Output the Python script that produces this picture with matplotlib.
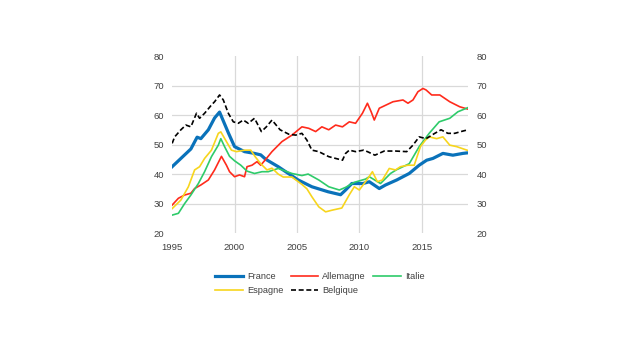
import numpy as np
import matplotlib
matplotlib.use('Agg')
import matplotlib.pyplot as plt

plt.rcParams['font.family'] = ['Liberation Sans', 'DejaVu Sans']

# values (year, level)
fr_years = [1995.0, 1995.5, 1996.0, 1996.5, 1997.0, 1997.3, 1997.9, 1998.4, 1998.8, 1999.2,
            1999.5, 2000.0, 2000.8, 2001.6, 2002.1, 2002.5, 2003.5, 2004.1, 2005.1, 2006.2,
            2007.5, 2008.5, 2008.9, 2009.4, 2010.3, 2010.8, 2011.6, 2012.1, 2013.0, 2014.0,
            2014.8, 2015.4, 2015.9, 2016.7, 2017.5, 2018.3, 2018.7]
fr_vals = [42.5, 44.5, 46.5, 48.5, 52.5, 52.0, 55.0, 59.0, 61.0, 57.0,
           54.0, 49.3, 47.6, 47.0, 46.5, 45.0, 42.5, 40.8, 38.0, 35.7,
           34.0, 33.0, 34.6, 36.8, 36.8, 37.4, 35.1, 36.3, 38.0, 40.2,
           43.0, 44.7, 45.3, 47.0, 46.4, 47.0, 47.2]

de_years = [1995.0, 1995.5, 1996.0, 1996.5, 1996.8, 1997.3, 1997.9, 1998.4, 1998.95, 1999.35,
            1999.6, 2000.0, 2000.4, 2000.8, 2001.0, 2001.4, 2001.8, 2002.1, 2002.5, 2003.0,
            2003.8, 2004.6, 2005.4, 2005.95, 2006.5, 2007.0, 2007.55, 2008.1, 2008.65, 2009.2,
            2009.7, 2010.25, 2010.65, 2010.95, 2011.2, 2011.6, 2012.15, 2012.7, 2013.5, 2013.9,
            2014.3, 2014.7, 2015.1, 2015.35, 2015.8, 2016.45, 2017.25, 2018.05, 2018.7]
de_vals = [29.5, 31.8, 32.9, 33.5, 35.1, 36.3, 38.0, 41.4, 46.0, 43.0,
           40.8, 39.1, 39.7, 39.1, 42.5, 43.0, 44.2, 43.0, 45.0, 47.6,
           51.0, 53.2, 56.0, 55.5, 54.4, 56.0, 55.0, 56.6, 56.0, 57.7,
           57.2, 60.6, 64.0, 61.1, 58.3, 62.3, 63.4, 64.5, 65.1, 64.0,
           65.1, 67.9, 69.0, 68.5, 66.8, 66.8, 64.5, 62.8, 62.0]

it_years = [1995.0, 1995.5, 1996.0, 1996.5, 1997.1, 1997.6, 1998.15, 1998.7, 1998.9, 1999.2,
            1999.6, 2000.0, 2000.5, 2001.0, 2001.6, 2002.2, 2002.7, 2003.5, 2004.6, 2005.4,
            2005.9, 2006.75, 2007.55, 2008.4, 2008.9, 2009.6, 2010.5, 2010.8, 2011.7, 2012.5,
            2013.0, 2014.0, 2014.8, 2015.6, 2016.4, 2017.25, 2017.9, 2018.7]
it_vals = [26.1, 26.7, 30.0, 32.9, 36.8, 40.8, 45.9, 49.8, 52.0, 49.3,
           46.0, 44.5, 43.0, 41.0, 40.2, 40.8, 40.8, 41.9, 40.2, 39.5,
           40.0, 38.0, 35.7, 34.6, 35.5, 37.2, 38.3, 39.1, 36.8, 40.2,
           41.5, 43.5, 49.3, 53.8, 57.7, 58.9, 61.1, 62.5]

es_years = [1995.0, 1995.7, 1996.3, 1996.8, 1997.2, 1997.6, 1998.15, 1998.7, 1998.9, 1999.35,
            1999.75, 2000.15, 2000.8, 2001.3, 2001.65, 2002.1, 2002.6, 2003.0, 2003.5, 2003.9,
            2004.6, 2005.4, 2005.8, 2006.2, 2006.75, 2007.3, 2007.85, 2008.6, 2009.2, 2009.6,
            2010.0, 2010.6, 2011.05, 2011.45, 2011.85, 2012.4, 2012.9, 2013.3, 2013.9, 2014.4,
            2014.9, 2015.3, 2015.6, 2016.2, 2016.7, 2017.25, 2017.8, 2018.7]
es_vals = [28.3, 31.2, 35.7, 41.4, 42.5, 45.3, 48.1, 53.8, 54.3, 51.0,
           48.1, 47.6, 48.1, 48.1, 45.9, 43.5, 41.4, 42.0, 40.0, 39.0,
           39.0, 36.5, 35.0, 32.3, 28.9, 27.2, 27.8, 28.5, 33.0, 35.7,
           34.6, 38.0, 40.8, 37.4, 38.0, 41.9, 41.4, 42.5, 43.0, 43.0,
           49.3, 51.5, 52.6, 52.0, 52.6, 49.8, 49.3, 48.0]

be_years = [1995.0, 1995.2, 1995.7, 1996.1, 1996.5, 1996.95, 1997.2, 1997.6, 1998.15, 1998.4,
            1998.8, 1999.1, 1999.5, 1999.9, 2000.3, 2000.7, 2001.1, 2001.6, 2002.15, 2002.55,
            2003.0, 2003.65, 2004.35, 2004.9, 2005.4, 2005.8, 2006.2, 2006.75, 2007.55, 2008.1,
            2008.65, 2008.9, 2009.2, 2009.7, 2010.35, 2010.65, 2011.25, 2012.0, 2012.9, 2013.8,
            2014.3, 2014.8, 2015.35, 2016.05, 2016.55, 2017.1, 2017.65, 2018.15, 2018.7]
be_vals = [50.4, 52.6, 55.0, 56.6, 56.0, 60.6, 58.9, 60.6, 63.4, 64.5,
           66.8, 65.1, 60.6, 57.7, 57.2, 58.3, 57.2, 58.9, 54.4, 56.0,
           58.3, 55.0, 53.5, 53.2, 53.8, 51.5, 48.1, 47.6, 45.9, 45.3,
           44.7, 47.0, 48.1, 47.6, 48.1, 47.6, 46.4, 47.8, 47.8, 47.6,
           49.8, 52.6, 52.0, 53.8, 55.0, 53.8, 53.8, 54.4, 55.0]

xticks = [1995, 2000, 2005, 2010, 2015]
yticks = [20, 30, 40, 50, 60, 70, 80]

fig = plt.figure(figsize=(6.4, 3.5), dpi=100)
ax = fig.add_axes([0.269, 0.334, 0.463, 0.506])

l_fr, = ax.plot(fr_years, fr_vals, color='#0a72ba', lw=2.3, label='France')
l_de, = ax.plot(de_years, de_vals, color='#ff2b1c', lw=1.2, label='Allemagne')
l_it, = ax.plot(it_years, it_vals, color='#2ecb6a', lw=1.2, label='Italie')
l_es, = ax.plot(es_years, es_vals, color='#f7d51d', lw=1.2, label='Espagne')
l_be, = ax.plot(be_years, be_vals, color='black', lw=1.2, ls=(0, (3, 1.6)), label='Belgique')

ax.set_xlim(1995, 2018.75)
ax.set_ylim(20, 80)
ax.set_xticks(xticks)
ax.set_yticks(yticks)
ax.set_xticklabels([str(t) for t in xticks])

for v in yticks[1:-1]:
    ax.axhline(v, color='#d9d9d9', lw=0.9, zorder=0)
for v in xticks[1:]:
    ax.axvline(v, color='#d9d9d9', lw=0.9, zorder=0)

for s in ax.spines.values():
    s.set_visible(False)
ax.tick_params(length=0, labelsize=6.8, labelcolor='#404040')
ax.tick_params(axis='y', labelright=True, pad=6)
ax.tick_params(axis='x', pad=7)

handles = [l_fr, l_es, l_de, l_be, l_it]
fig.legend(handles=handles, labels=[h.get_label() for h in handles], ncol=3,
           loc='upper center', bbox_to_anchor=(0.5, 1 - 264 / 350), frameon=False,
           fontsize=6.6, handlelength=3.0, handletextpad=0.45, columnspacing=0.8,
           labelspacing=0.55, labelcolor='#404040')

fig.savefig('out.png', dpi=100)
